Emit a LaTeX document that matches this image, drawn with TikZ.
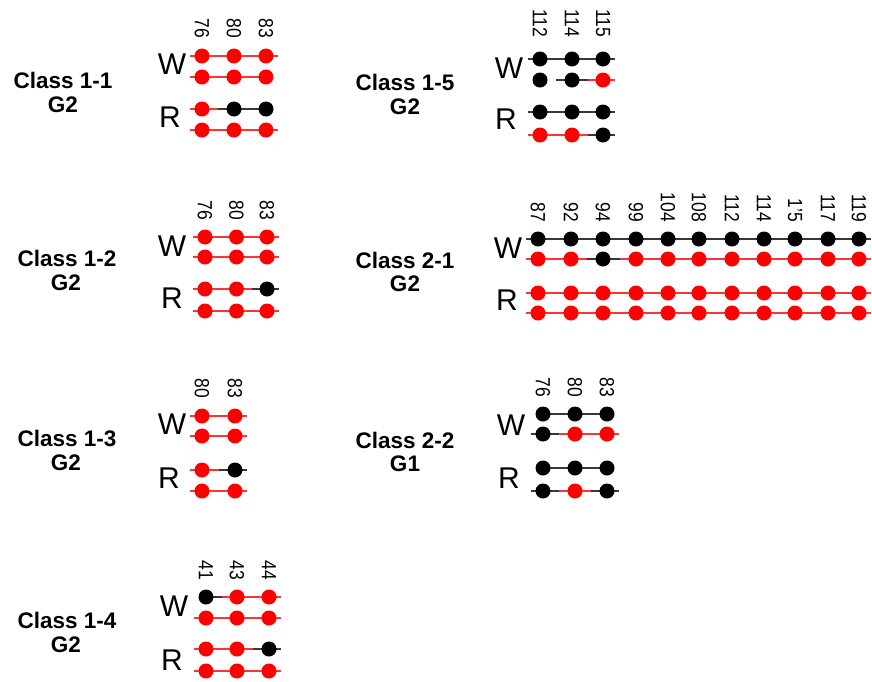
\documentclass[tikz,border=0pt]{standalone}
\usepackage{fontspec}
\setmainfont{Liberation Sans}
\usetikzlibrary{calc,backgrounds}

\definecolor{dotred}{HTML}{FF0000}
\definecolor{linered}{HTML}{FF3333}
\definecolor{linegray}{HTML}{383838}

\tikzset{
  ln-r/.style={draw=linered},
  ln-k/.style={draw=linegray},
  ln-n/.style={draw=none},
  pin-r/.style={fill=dotred},
  pin-k/.style={fill=black},
  bead/.style={circle, inner sep=0pt, minimum size=15pt, draw=none},
  link/.style={line width=2.2pt},
  classlbl/.style={font=\bfseries\fontsize{22.5}{24}\selectfont, inner sep=0pt},
  rwlbl/.style={font=\fontsize{30}{30}\selectfont, inner sep=0pt},
  poslbl/.style={font=\fontsize{20.5}{20}\selectfont, rotate=-90, anchor=east, inner sep=0pt},
}

% \beadrow{name}{y}{number of beads}{x/bead colour/left line/right line, ...}
\newcommand\beadrow[4]{%
  \foreach \bx/\bc/\bl/\br [count=\bi] in {#4}
    {\node[bead, pin-\bc] (#1-\bi) at (\bx,#2) {};}
  \begin{pgfonlayer}{background}
  \foreach \bx/\bc/\bl/\br [count=\bi] in {#4}{
    \pgfmathtruncatemacro\bprev{\bi-1}
    \pgfmathtruncatemacro\bnext{\bi+1}
    \ifnum\bi=1
      \draw[link, ln-\bl] (#1-\bi.center) -- ++(-12,0);
    \else
      \draw[link, ln-\bl] (#1-\bi.center) -- ($(#1-\bi.center)!0.5!(#1-\bprev.center)$);
    \fi
    \ifnum\bi=#3
      \draw[link, ln-\br] (#1-\bi.center) -- ++(12,0);
    \else
      \draw[link, ln-\br] (#1-\bi.center) -- ($(#1-\bi.center)!0.5!(#1-\bnext.center)$);
    \fi
  }
  \end{pgfonlayer}
}

% \poslabels{name}{bottom y}{x/text, ...}; digits set slightly condensed
\newcommand\poslabels[3]{%
  \foreach \nx/\nt [count=\ni] in {#3}
    {\node[poslbl] (#1-\ni) at (\nx,#2) {\scalebox{0.85}[1]{\nt}};}
}

\begin{document}
\begin{tikzpicture}[x=1pt, y=-1pt]
\useasboundingbox (0,0) rectangle (872,681);

% ---------------- Class 1-1 ----------------
\node[classlbl] (c11) at (63,80) {Class 1-1};
\node[classlbl] (g11) at (63,105) {G2};
\node[rwlbl] (w11) at (172,64) {W};
\node[rwlbl] (r11) at (170,117) {R};
\poslabels{n11}{38}{202/76, 234/80, 266/83}
\beadrow{a11}{56}{3}{202/r/r/r, 234/r/r/r, 266/r/r/r}
\beadrow{b11}{77}{3}{202/r/r/r, 234/r/r/r, 266/r/r/n}
\beadrow{c11r}{109}{3}{202/r/r/r, 234/k/k/k, 266/k/k/n}
\beadrow{d11}{130}{3}{202/r/r/r, 234/r/r/r, 266/r/r/r}

% ---------------- Class 1-2 ----------------
\node[classlbl] (c12) at (67,258) {Class 1-2};
\node[classlbl] (g12) at (66,283) {G2};
\node[rwlbl] (w12) at (172,246) {W};
\node[rwlbl] (r12) at (172,298) {R};
\poslabels{n12}{220}{205/76, 236.5/80, 267/83}
\beadrow{a12}{237}{3}{205/r/r/r, 236.5/r/r/r, 267/r/r/r}
\beadrow{b12}{257}{3}{205/r/r/r, 236.5/r/r/r, 267/r/r/r}
\beadrow{c12r}{289}{3}{205/r/r/r, 236.5/r/r/r, 267/k/k/k}
\beadrow{d12}{311}{3}{205/r/r/r, 236.5/r/r/r, 267/r/r/r}

% ---------------- Class 1-3 ----------------
\node[classlbl] (c13) at (67,438) {Class 1-3};
\node[classlbl] (g13) at (66,463) {G2};
\node[rwlbl] (w13) at (172,424) {W};
\node[rwlbl] (r13) at (169,478) {R};
\poslabels{n13}{398}{202/80, 235/83}
\beadrow{a13}{416}{2}{202/r/r/r, 235/r/r/r}
\beadrow{b13}{436}{2}{202/r/r/r, 235/r/r/r}
\beadrow{c13r}{470}{2}{202/r/r/r, 235/k/k/k}
\beadrow{d13}{491}{2}{202/r/r/r, 235/r/r/r}

% ---------------- Class 1-4 ----------------
\node[classlbl] (c14) at (67,620) {Class 1-4};
\node[classlbl] (g14) at (66,645) {G2};
\node[rwlbl] (w14) at (174,606) {W};
\node[rwlbl] (r14) at (172,660) {R};
\poslabels{n14}{580}{206/41, 237/43, 269/44}
\beadrow{a14}{597}{3}{206/k/n/k, 237/r/r/r, 269/r/r/r}
\beadrow{b14}{618}{3}{206/r/r/r, 237/r/r/r, 269/r/r/r}
\beadrow{c14r}{649}{3}{206/r/r/r, 237/r/r/r, 269/k/k/k}
\beadrow{d14}{671}{3}{206/r/r/r, 237/r/r/r, 269/r/r/r}

% ---------------- Class 1-5 ----------------
\node[classlbl] (c15) at (405,82) {Class 1-5};
\node[classlbl] (g15) at (405,107) {G2};
\node[rwlbl] (w15) at (509,68) {W};
\node[rwlbl] (r15) at (506,119) {R};
\poslabels{n15}{37}{540/112, 572/114, 603/115}
\beadrow{a15}{59}{3}{540/k/k/k, 572/k/k/k, 603/k/k/k}
\beadrow{b15}{80}{3}{540/k/n/n, 572/k/k/k, 603/r/r/r}
\beadrow{c15r}{112}{3}{540/k/k/k, 572/k/k/k, 603/k/k/k}
\beadrow{d15}{135}{3}{540/r/r/r, 572/r/r/r, 603/k/k/k}

% ---------------- Class 2-1 ----------------
\node[classlbl] (c21) at (405,260) {Class 2-1};
\node[classlbl] (g21) at (405,284) {G2};
\node[rwlbl] (w21) at (508,248) {W};
\node[rwlbl] (r21) at (507,300) {R};
\poslabels{n21}{222}{538/87, 571/92, 603/94, 636/99, 668/104, 699/108, 732/112, 764/114, 795/1'5, 828/117, 859/119}
\beadrow{a21}{239}{11}{538/k/k/k, 571/k/k/k, 603/k/k/k, 636/k/k/k, 668/k/k/k, 699/k/k/k, 732/k/k/k, 764/k/k/k, 795/k/k/k, 828/k/k/k, 859/k/k/k}
\beadrow{b21}{259}{11}{538/r/r/r, 571/r/r/r, 603/k/k/k, 636/r/r/r, 668/r/r/r, 699/r/r/r, 732/r/r/r, 764/r/r/r, 795/r/r/r, 828/r/r/r, 859/r/r/r}
\beadrow{c21r}{293}{11}{538/r/r/r, 571/r/r/r, 603/r/r/r, 636/r/r/r, 668/r/r/r, 699/r/r/r, 732/r/r/r, 764/r/r/r, 795/r/r/r, 828/r/r/r, 859/r/r/r}
\beadrow{d21}{313}{11}{538/r/r/r, 571/r/r/r, 603/r/r/r, 636/r/r/r, 668/r/r/r, 699/r/r/r, 732/r/r/r, 764/r/r/r, 795/r/r/r, 828/r/r/r, 859/r/r/r}

% ---------------- Class 2-2 ----------------
\node[classlbl] (c22) at (405,440) {Class 2-2};
\node[classlbl] (g22) at (405,464) {G1};
\node[rwlbl] (w22) at (511,425) {W};
\node[rwlbl] (r22) at (509,478) {R};
\poslabels{n22}{397}{543/76, 575/80, 607/83}
\beadrow{a22}{414}{3}{543/k/n/k, 575/k/k/k, 607/k/k/n}
\beadrow{b22}{434}{3}{543/k/k/k, 575/r/r/r, 607/r/r/r}
\beadrow{c22r}{468}{3}{543/k/n/k, 575/k/k/k, 607/k/k/n}
\beadrow{d22}{491}{3}{543/k/k/k, 575/r/r/r, 607/k/k/k}

\end{tikzpicture}
\end{document}
